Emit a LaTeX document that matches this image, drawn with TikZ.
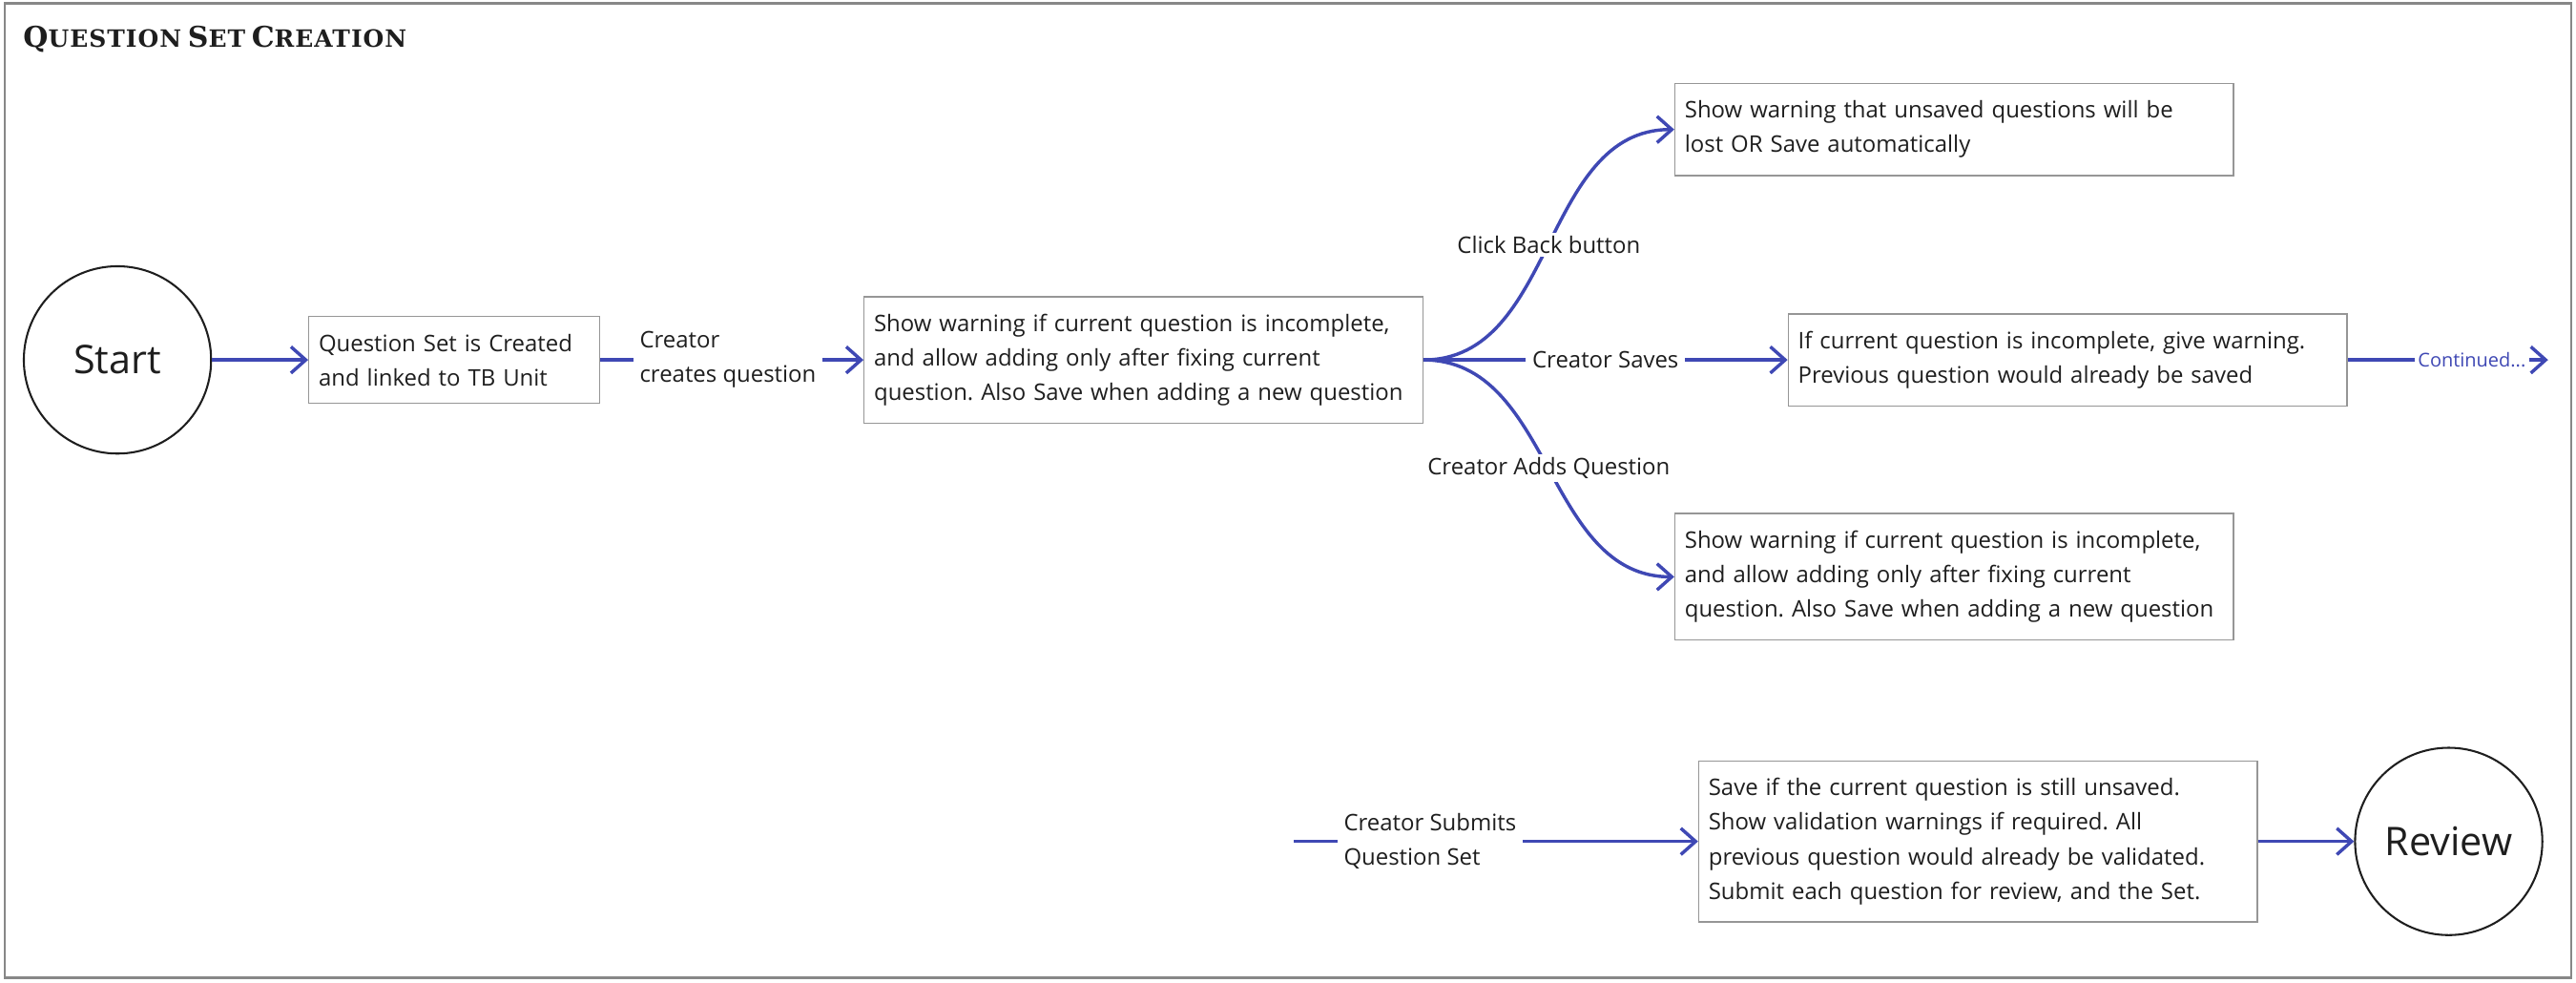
\documentclass[tikz,border=0pt]{standalone}
\usepackage{fontspec}
\setmainfont{Open Sans}
\newfontfamily\titlefont{DejaVu Serif}[LetterSpace=4]
\usetikzlibrary{arrows.meta}
\frenchspacing

\definecolor{flowblue}{RGB}{63,72,180}
\definecolor{boxgray}{RGB}{150,150,150}
\definecolor{framegray}{RGB}{135,135,135}
\definecolor{inkblack}{RGB}{30,30,30}

% small caps made by hand for the title
\newcommand{\titleword}[2]{{\fontsize{17.4}{20}\selectfont #1}{\fontsize{14.5}{20}\selectfont #2}}

\tikzset{
  stepbox/.style={draw=boxgray, line width=0.8pt, text=inkblack, text width=#1, align=left,
    inner xsep=6pt, inner ysep=10.5pt, font=\fontsize{13.9}{21}\selectfont},
  stepbox/.default=328pt,
  endcircle/.style={draw=inkblack, line width=1.2pt, circle, minimum size=114pt, inner sep=0pt,
    text=inkblack, font=\fontsize{24}{28}\selectfont},
  flow/.style={flowblue, line width=2pt, -{Straight Barb[length=9pt,width=16pt]}},
  steplabel/.style={fill=white, text=inkblack, align=left, inner xsep=4pt, inner ysep=2pt,
    font=\fontsize{13.9}{21}\selectfont},
}

\begin{document}
\begin{tikzpicture}[x=1pt,y=-1pt]
            \useasboundingbox (0,0) rectangle (1568,598);

            % draw outer frame and title
            \draw[framegray, line width=1.3pt] (3,2) rectangle (1565,595);
            \node[anchor=base west, inner sep=0pt, text=inkblack] (title) at (14,29)
                {\titlefont\bfseries\titleword{Q}{UESTION} \titleword{S}{ET} \titleword{C}{REATION}};

            % place start and end states
            \node[endcircle] (start) at (71.5,219) {Start};
            \node[endcircle] (review) at (1490.5,512) {Review};

            % place step boxes
            \node[stepbox=165pt] (created) at (276.5,219) {Question Set is Created\\
                and linked to TB Unit};
            \node[stepbox] (incomplete) at (696,219) {Show warning if current question is incomplete,\\
                and allow adding only after fixing current\\
                question. Also Save when adding a new question};
            \node[stepbox] (unsaved) at (1189.5,78.8) {Show warning that unsaved questions will be\\
                lost OR Save automatically};
            \node[stepbox] (saves) at (1258.5,219) {If current question is incomplete, give warning.\\
                Previous question would already be saved};
            \node[stepbox] (adds) at (1189.5,351) {Show warning if current question is incomplete,\\
                and allow adding only after fixing current\\
                question. Also Save when adding a new question};
            \node[stepbox] (validate) at (1204,512) {Save if the current question is still unsaved.\\
                Show validation warnings if required. All\\
                previous question would already be validated.\\
                Submit each question for review, and the Set.};

            % free ends of connectors
            \coordinate (cont) at (1551,219);
            \coordinate (submit) at (787.5,512);

            % draw connectors
            \draw[flow] (start) -- (created);
            \draw[flow] (created) -- node[steplabel, pos=0.485] (createslbl) {Creator\\creates question} (incomplete);
            \draw[flow] (incomplete.east) to[out=0,in=180] node[steplabel] (backlbl) {Click Back button} (unsaved.west);
            \draw[flow] (incomplete.east) -- node[steplabel] (saveslbl) {Creator Saves} (saves.west);
            \draw[flow] (incomplete.east) to[out=0,in=180] node[steplabel] (addslbl) {Creator Adds Question} (adds.west);
            \draw[flow] (saves) -- node[steplabel, pos=0.62, text=flowblue, inner xsep=2pt,
                font=\fontsize{11.6}{13}\selectfont] (contlbl) {Continued...} (cont);
            \draw[flow] (submit) -- node[steplabel, pos=0.337] (submitlbl) {Creator Submits\\Question Set} (validate);
            \draw[flow] (validate) -- (review);
        \end{tikzpicture}
\end{document}
